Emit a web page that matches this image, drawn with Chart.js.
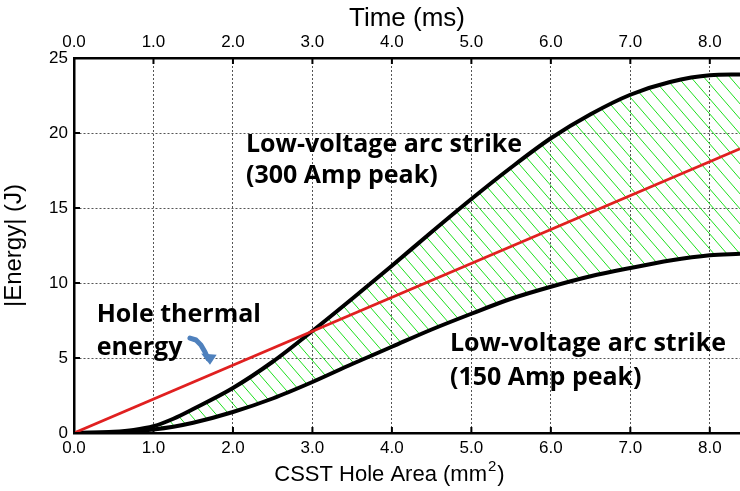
<!DOCTYPE html>
<html>
<head>
<meta charset="utf-8">
<script src="https://cdn.jsdelivr.net/npm/chart.js@4/dist/chart.umd.min.js"></script>
<style>
    html, body { margin: 0; padding: 0; background: #fff; overflow: hidden; }
    #wrap { width: 740px; height: 491px; }
</style>
</head>
<body>
<div id="wrap"><canvas id="EnergyChart"></canvas></div>
<script>
// hole area (mm2) where the curves were read
const area = [0, 0.5, 0.75, 1, 1.25, 1.5, 2, 2.5, 3, 3.5, 4, 4.5, 5, 5.5, 6, 6.5, 7, 7.5, 8, 8.38];
// 300 A peak arc strike energy (J)
const arc300 = [0, 0.08, 0.2, 0.45, 0.95, 1.6, 3.0, 4.75, 6.8, 8.95, 11.15, 13.4, 15.6, 17.7, 19.65, 21.25, 22.55, 23.4, 23.85, 23.9];
// 150 A peak arc strike energy (J)
const arc150 = [0, 0.04, 0.12, 0.24, 0.42, 0.68, 1.4, 2.3, 3.4, 4.6, 5.75, 6.9, 7.95, 8.95, 9.75, 10.45, 11.0, 11.5, 11.85, 11.95];
// hole thermal energy, straight line
const thermalX = [0, 8.38];
const thermal = [0, 18.95];

const xTicks = [0, 1, 2, 3, 4, 5, 6, 7, 8];
const yTicks = [0, 5, 10, 15, 20, 25];

// text notes: [text, x, y(baseline)]
const notes = [
    ["Low-voltage arc strike", 2.164, 18.75],
    ["(300 Amp peak)", 2.164, 16.65],
    ["Low-voltage arc strike", 4.73, 5.49],
    ["(150 Amp peak)", 4.73, 3.2],
    ["Hole thermal", 0.286, 7.42],
    ["energy", 0.286, 5.2]
];
// little blue arrow pointing at the red line
const arrowPath = [[1.459, 6.33], [1.535, 6.2], [1.597, 5.87], [1.648, 5.4], [1.686, 4.95]];
const arrowHead = [[1.6, 5.3], [1.711, 4.55], [1.795, 5.22]];

function hatchPattern() {
    const c = document.createElement('canvas');
    c.width = 13; c.height = 15;
    const g = c.getContext('2d');
    g.strokeStyle = "#1ee01e";
    g.lineWidth = 1;
    for (let k = -1; k <= 1; k++) {
        g.beginPath();
        g.moveTo(k * 13 - 2, -2 * 15 / 13);
        g.lineTo(k * 13 + 15, 15 + 2 * 15 / 13);
        g.stroke();
    }
    return g.createPattern(c, 'repeat');
}

function drawPath(ctx, xs, ys, pts) {
    ctx.beginPath();
    pts.forEach((p, i) => {
        const px = xs.getPixelForValue(p[0]), py = ys.getPixelForValue(p[1]);
        if (i === 0) ctx.moveTo(px, py); else ctx.lineTo(px, py);
    });
}

const notesPlugin = {
    id: 'notes',
    afterDatasetsDraw(chart) {
        const ctx = chart.ctx;
        const xs = chart.scales.x, ys = chart.scales.y;
        const area_ = chart.chartArea;
        ctx.save();

        // short inward tick marks
        ctx.strokeStyle = "#000";
        ctx.lineWidth = 2;
        ctx.beginPath();
        xTicks.forEach(v => {
            const px = xs.getPixelForValue(v);
            ctx.moveTo(px, area_.top); ctx.lineTo(px, area_.top + 6);
            ctx.moveTo(px, area_.bottom); ctx.lineTo(px, area_.bottom - 6);
        });
        yTicks.forEach(v => {
            const py = ys.getPixelForValue(v);
            ctx.moveTo(area_.left, py); ctx.lineTo(area_.left + 6, py);
        });
        ctx.stroke();

        ctx.fillStyle = "#000";
        ctx.font = "bold 25px 'Open Sans'";
        ctx.textBaseline = "alphabetic";
        ctx.textAlign = "left";
        notes.forEach(n => ctx.fillText(n[0], xs.getPixelForValue(n[1]), ys.getPixelForValue(n[2])));

        ctx.strokeStyle = "#4f81bd";
        ctx.lineWidth = 5;
        ctx.lineCap = "round";
        ctx.lineJoin = "round";
        drawPath(ctx, xs, ys, arrowPath);
        ctx.stroke();
        ctx.fillStyle = "#4f81bd";
        drawPath(ctx, xs, ys, arrowHead);
        ctx.closePath();
        ctx.fill();

        // bottom axis title with a real superscript
        ctx.fillStyle = "#000";
        const base = area_.bottom + 48;
        let tx = xs.getPixelForValue(2.52);
        ctx.font = "22px 'Liberation Sans'";
        const main = "CSST Hole Area (mm";
        ctx.fillText(main, tx, base);
        tx += ctx.measureText(main).width;
        ctx.font = "15px 'Liberation Sans'";
        ctx.fillText("2", tx + 1, base - 10);
        tx += ctx.measureText("2").width + 2;
        ctx.font = "22px 'Liberation Sans'";
        ctx.fillText(")", tx, base);
        ctx.restore();
    }
};

const tickFont = { family: "Liberation Sans", size: 17 };
const titleFont = { family: "Liberation Sans", size: 26 };

new Chart(document.querySelector('#EnergyChart'), {
    type: 'line',
    data: {
        datasets: [{
            label: 'Hole thermal energy',
            data: thermalX.map((x, i) => ({ x: x, y: thermal[i] })),
            borderColor: "#e02020",
            borderWidth: 2.8,
            pointRadius: 0,
            fill: false
        }, {
            label: '300 Amp peak',
            data: area.map((x, i) => ({ x: x, y: arc300[i] })),
            borderColor: "#000",
            borderWidth: 4,
            pointRadius: 0,
            cubicInterpolationMode: 'monotone',
            fill: '+1',
            backgroundColor: hatchPattern()
        }, {
            label: '150 Amp peak',
            data: area.map((x, i) => ({ x: x, y: arc150[i] })),
            borderColor: "#000",
            borderWidth: 4,
            pointRadius: 0,
            cubicInterpolationMode: 'monotone',
            fill: false
        }]
    },
    options: {
        responsive: true,
        maintainAspectRatio: false,
        animation: false,
        layout: { padding: 0 },
        plugins: {
            legend: { display: false },
            tooltip: { enabled: false },
            filler: { drawTime: 'beforeDatasetsDraw' }
        },
        scales: {
            x: {
                type: 'linear',
                position: 'bottom',
                min: 0,
                max: 8.38,
                afterBuildTicks: s => { s.ticks = xTicks.map(v => ({ value: v })); },
                afterFit: s => { s.height = 58; },
                ticks: { color: "#000", font: tickFont, padding: 5, maxRotation: 0, callback: v => v.toFixed(1) },
                grid: { color: "#555", lineWidth: 1, drawTicks: false },
                border: { color: "#000", width: 2.5, dash: [2, 2] },
                title: { display: false }
            },
            x2: {
                type: 'linear',
                position: 'top',
                min: 0,
                max: 8.38,
                afterBuildTicks: s => { s.ticks = xTicks.map(v => ({ value: v })); },
                afterFit: s => { s.height = 58; },
                ticks: { color: "#000", font: tickFont, padding: 5, maxRotation: 0, callback: v => v.toFixed(1) },
                grid: { drawOnChartArea: false, drawTicks: false },
                border: { color: "#000", width: 2.5 },
                title: { display: true, text: "Time (ms)", color: "#000", font: titleFont, padding: { top: 3, bottom: 0 } }
            },
            y: {
                min: 0,
                max: 25,
                afterBuildTicks: s => { s.ticks = yTicks.map(v => ({ value: v })); },
                afterFit: s => { s.width = 74; },
                ticks: { color: "#000", font: tickFont, padding: 6 },
                grid: { color: "#555", lineWidth: 1, drawTicks: false },
                border: { color: "#000", width: 2.5, dash: [2, 2] },
                title: { display: true, text: "|Energy| (J)", color: "#000", font: { family: "Liberation Sans", size: 24 }, padding: { top: 0, bottom: 8 } }
            }
        }
    },
    plugins: [notesPlugin]
});
</script>
</body>
</html>
